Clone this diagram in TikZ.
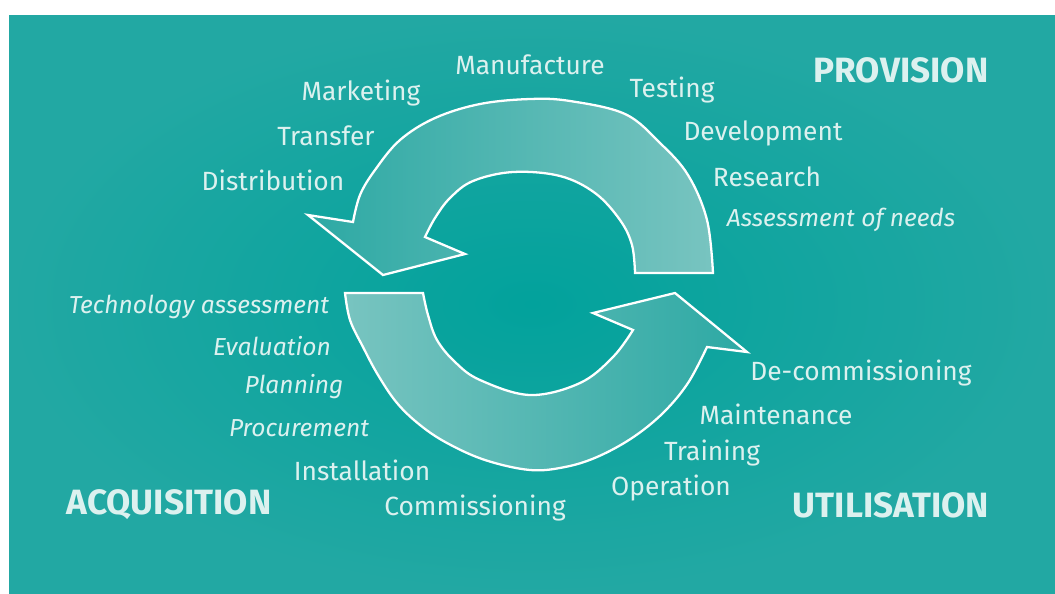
\documentclass[tikz,border=0pt]{standalone}
\usepackage{fontspec}
\setmainfont{Fira Sans}
\usepackage{tikz}
\definecolor{bgmid}{RGB}{2,162,156}
\definecolor{bgedge}{RGB}{34,168,163}
\definecolor{txt}{RGB}{220,241,239}
\definecolor{armdark}{RGB}{45,169,164}
\definecolor{armlight}{RGB}{120,196,192}
\tikzstyle{task} = [text=txt, inner sep=0pt, font=\fontsize{15}{18}\selectfont]
\tikzstyle{taskit} = [task, font=\fontsize{14}{17}\selectfont\itshape]
\tikzstyle{phase} = [text=txt, inner sep=0pt, font=\fontsize{20}{23}\selectfont\bfseries]
\tikzstyle{arm} = [draw=white, line width=1.3pt, line join=miter]

\begin{document}
\begin{tikzpicture}[x=0.02cm, y=-0.02cm]
    \useasboundingbox (0,0) rectangle (1055,593);
    \shade [inner color=bgmid, outer color=bgedge] (9,15) rectangle (1055,593);

    % upper arrow, tail on the right
    \shade [arm, left color=armdark, right color=armlight]
        (635,273) -- (713,273)
        -- plot [smooth, tension=0.6] coordinates {(713,273) (707,220) (688,175) (660,143) (625,114)
            (570,101) (530,99) (480,104) (435,118) (400,140) (375,170) (360,195) (353,222)}
        -- (308,215) -- (383,275) -- (465,254) -- (425,237)
        -- plot [smooth, tension=0.6] coordinates {(425,237) (435,218) (450,198) (473,181) (513,172)
            (560,176) (595,193) (620,220) (632,245) (635,273)}
        -- cycle;

    % lower arrow, tail on the left
    \shade [arm, shading angle=60, left color=armlight, right color=armdark]
        (423,293) -- (345,293)
        -- plot [smooth, tension=0.6] coordinates {(345,293) (350,320) (363,347) (378,375) (397,403)
            (420,425) (447,443) (485,460) (530,470) (565,467) (597,457) (632,438) (663,413)
            (688,383) (707,347)}
        -- (747,352) -- (675,293) -- (593,313) -- (633,330)
        -- plot [smooth, tension=0.6] coordinates {(633,330) (613,357) (580,383) (530,395) (480,380)
            (455,362) (437,340) (428,315) (423,293)}
        -- cycle;

    % provision
    \node [phase] (prov) at (901,70) {PROVISION};
    \node [task] (man) at (530,65) {Manufacture};
    \node [task] (mkt) at (361,93) {Marketing};
    \node [task] (trf) at (326,136) {Transfer};
    \node [task] (dist) at (273,180) {Distribution};
    \node [task] (test) at (672,90) {Testing};
    \node [task] (dev) at (763,133) {Development};
    \node [task] (res) at (767,177) {Research};
    \node [taskit] (needs) at (841,220) {Assessment of needs};

    % acquisition
    \node [phase] (acq) at (169,505) {ACQUISITION};
    \node [taskit] (tech) at (199,307) {Technology assessment};
    \node [taskit] (eval) at (272,346) {Evaluation};
    \node [taskit] (plan) at (294,387) {Planning};
    \node [taskit] (proc) at (299,428) {Procurement};
    \node [task] (inst) at (362,470) {Installation};
    \node [task] (comm) at (475,508) {Commissioning};

    % utilisation
    \node [phase] (util) at (891,505) {UTILISATION};
    \node [task] (decomm) at (861,373) {De-commissioning};
    \node [task] (maint) at (776,414) {Maintenance};
    \node [task] (train) at (712,453) {Training};
    \node [task] (oper) at (671,488) {Operation};
\end{tikzpicture}
\end{document}
